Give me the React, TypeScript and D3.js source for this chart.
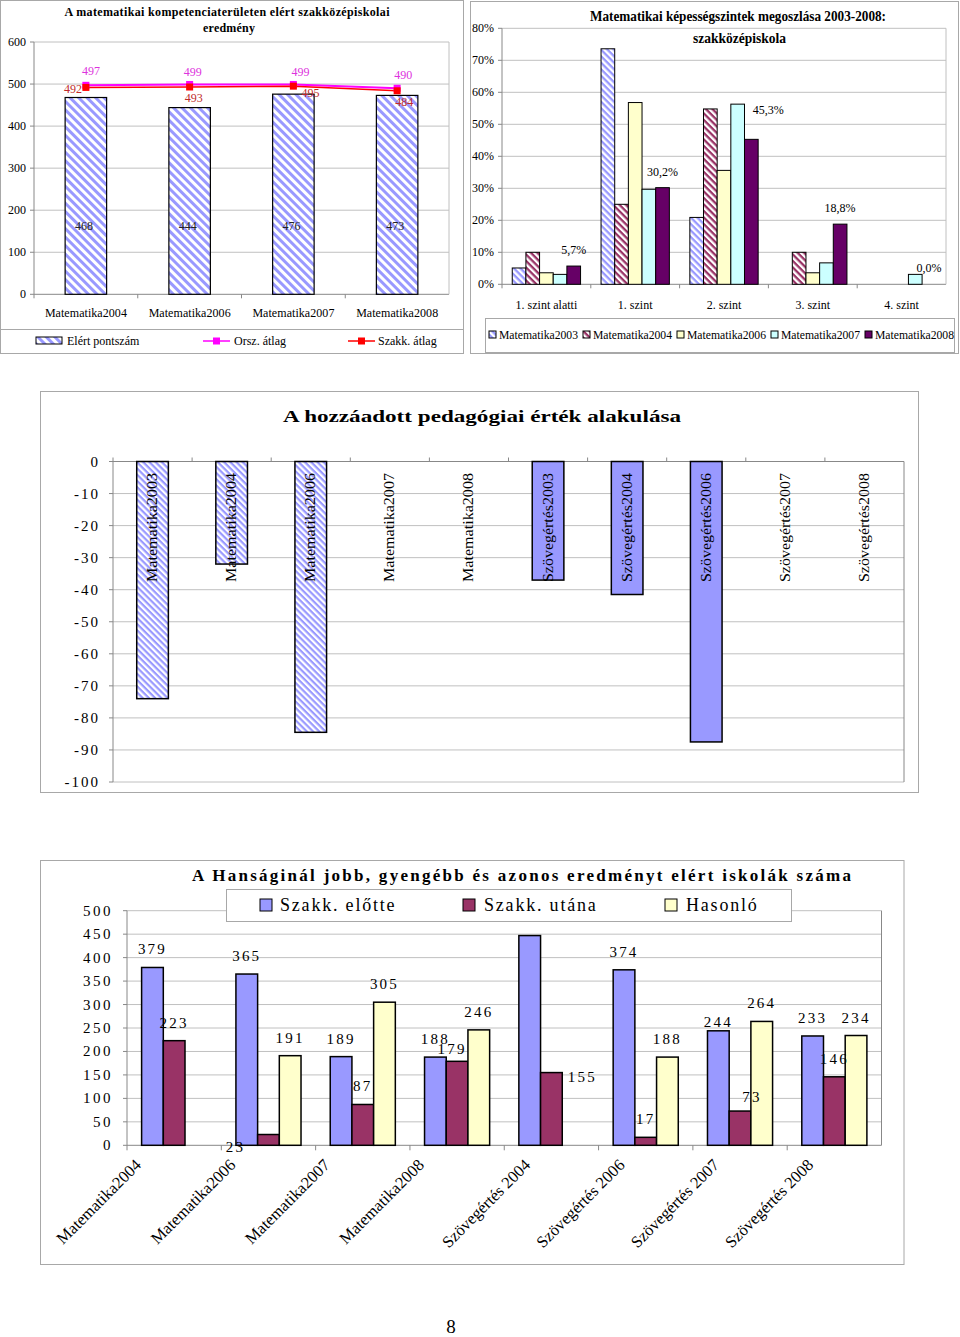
import * as d3 from "d3"

const FONT = "'Liberation Serif', 'Times New Roman', serif"
const GRID = "#c0c0c0"
const AXIS = "#888888"
const FRAME = "#a8a8a8"

// --- chart 1: kompetenciaterület eredmény
const c1Cats = ["Matematika2004", "Matematika2006", "Matematika2007", "Matematika2008"]
const c1Score = [468, 444, 476, 473]
const c1Orsz = [497, 499, 499, 490]
const c1Szakk = [492, 493, 495, 484]
const c1Ticks = [0, 100, 200, 300, 400, 500, 600]
// label nudges (px) for the line labels
const c1OrszNudge = [[5, -14], [3, -12], [7, -12], [6, -13]]
const c1SzakkNudge = [[-13, 2], [4, 11], [17, 7], [7, 11]]

// --- chart 2: képességszintek megoszlása
const c2Cats = ["1. szint alatti", "1. szint", "2. szint", "3. szint", "4. szint"]
const c2Series = ["Matematika2003", "Matematika2004", "Matematika2006", "Matematika2007", "Matematika2008"]
const c2M2003 = [5.1, 73.6, 20.9, 0, 0]
const c2M2004 = [10.0, 25.0, 54.8, 10.0, 0]
const c2M2006 = [3.6, 56.8, 35.6, 3.6, 0]
const c2M2007 = [3.1, 29.7, 56.3, 6.7, 3.1]
const c2M2008 = [5.7, 30.2, 45.3, 18.8, 0.0]
const c2Labels = ["5,7%", "30,2%", "45,3%", "18,8%", "0,0%"]
const c2Ticks = [0, 10, 20, 30, 40, 50, 60, 70, 80]

// --- chart 3: hozzáadott pedagógiai érték
const c3Cats = [
  "Matematika2003", "Matematika2004", "Matematika2006", "Matematika2007", "Matematika2008",
  "Szövegértés2003", "Szövegértés2004", "Szövegértés2006", "Szövegértés2007", "Szövegértés2008",
]
const c3Values = [-74, -32, -84.5, null, null, -37, -41.5, -87.5, null, null]
const c3Ticks = [0, -10, -20, -30, -40, -50, -60, -70, -80, -90, -100]

// --- chart 4: jobb, gyengébb, azonos iskolák
const c4Cats = [
  "Matematika2004", "Matematika2006", "Matematika2007", "Matematika2008",
  "Szövegértés 2004", "Szövegértés 2006", "Szövegértés 2007", "Szövegértés 2008",
]
const c4Series = ["Szakk. előtte", "Szakk. utána", "Hasonló"]
const c4Elotte = [379, 365, 189, 188, 447, 374, 244, 233]
const c4Utana = [223, 23, 87, 179, 155, 17, 73, 146]
const c4Hasonlo = [null, 191, 305, 246, null, 188, 264, 234]
const c4Ticks = [0, 50, 100, 150, 200, 250, 300, 350, 400, 450, 500]
const c4HiddenLabels = ["0-4"]
const c4Nudge: Record<string, [number, number]> = {
  "1-1": [-33, 30], "1-3": [-5, 6], "1-4": [31, 22], "0-6": [0, 9], "1-6": [12, 4],
}

function Patterns() {
  const hatch = (id: string, color: string, p: number) => (
    <pattern id={id} patternUnits="userSpaceOnUse" width={p} height={p} patternTransform="rotate(45)">
      <rect width={p} height={p} fill="#fff" />
      <rect width={p} height={p / 2} fill={color} />
    </pattern>
  )
  return (
    <defs>
      {hatch("hatchA", "#9999ff", 6)}
      {hatch("hatchB", "#9999ff", 4.6)}
      {hatch("hatchC", "#993366", 4.6)}
      {hatch("hatchD", "#9999ff", 4.4)}
    </defs>
  )
}

function Chart1() {
  const x = d3.scaleBand<string>().domain(c1Cats).range([34, 449])
  const y = d3.scaleLinear().domain([0, 600]).range([294.3, 42])
  const bw = x.bandwidth() * 0.4
  const cx = (i: number) => x(c1Cats[i])! + x.bandwidth() / 2
  const line = d3.line<number>().x((_, i) => cx(i)).y(v => y(v))
  const [l, r] = x.range()
  return (
    <g fontFamily={FONT}>
      <rect x={0.5} y={0.5} width={463} height={353} fill="#fff" stroke={FRAME} />
      <text x={227} y={12} textAnchor="middle" dominantBaseline="central" fontSize={12} fontWeight="bold" textLength={325} lengthAdjust="spacing">A matematikai kompetenciaterületen elért szakközépiskolai</text>
      <text x={229} y={28} textAnchor="middle" dominantBaseline="central" fontSize={12} fontWeight="bold" textLength={52} lengthAdjust="spacing">eredmény</text>
      {c1Ticks.map(t => (
        <g key={t}>
          <line x1={l} x2={r} y1={y(t)} y2={y(t)} stroke={t === 0 ? AXIS : GRID} />
          <line x1={l - 4} x2={l} y1={y(t)} y2={y(t)} stroke={AXIS} />
          <text x={26} y={y(t)} textAnchor="end" dominantBaseline="central" fontSize={12}>{t}</text>
        </g>
      ))}
      <line x1={l} x2={l} y1={y(600)} y2={y(0)} stroke={AXIS} />
      <line x1={r} x2={r} y1={y(600)} y2={y(0)} stroke={GRID} />
      {c1Cats.map((c, i) => (
        <g key={c}>
          <line x1={x(c)!} x2={x(c)!} y1={y(0)} y2={y(0) + 4} stroke={AXIS} />
          <rect x={cx(i) - bw / 2} y={y(c1Score[i])} width={bw} height={y(0) - y(c1Score[i])} fill="url(#hatchA)" stroke="#000" strokeWidth={1.2} />
          <text x={cx(i) - 2} y={y(162)} textAnchor="middle" dominantBaseline="central" fontSize={12} fill="#222">{c1Score[i]}</text>
          <text x={cx(i)} y={313} textAnchor="middle" dominantBaseline="central" fontSize={12} textLength={82} lengthAdjust="spacing">{c}</text>
        </g>
      ))}
      <path d={line(c1Orsz)!} fill="none" stroke="#ff00ff" strokeWidth={2} />
      <path d={line(c1Szakk)!} fill="none" stroke="#ff0000" strokeWidth={1.5} />
      {c1Orsz.map((v, i) => (
        <g key={"o" + i}>
          <rect x={cx(i) - 3.5} y={y(v) - 3.5} width={7} height={7} fill="#ff00ff" />
          <text x={cx(i) + c1OrszNudge[i][0]} y={y(v) + c1OrszNudge[i][1]} textAnchor="middle" dominantBaseline="central" fontSize={12} fill="#dd33dd">{v}</text>
        </g>
      ))}
      {c1Szakk.map((v, i) => (
        <g key={"s" + i}>
          <rect x={cx(i) - 3.5} y={y(v) - 3.5} width={7} height={7} fill="#ff0000" />
          <text x={cx(i) + c1SzakkNudge[i][0]} y={y(v) + c1SzakkNudge[i][1]} textAnchor="middle" dominantBaseline="central" fontSize={12} fill="#c02a2a">{v}</text>
        </g>
      ))}
      {/* legend */}
      <line x1={0.5} x2={463.5} y1={329.5} y2={329.5} stroke={FRAME} />
      <rect x={36} y={337} width={26} height={7} fill="url(#hatchA)" stroke="#000" />
      <text x={67} y={341} dominantBaseline="central" fontSize={12}>Elért pontszám</text>
      <line x1={203} x2={230} y1={341} y2={341} stroke="#ff00ff" strokeWidth={1.5} />
      <rect x={213} y={337.5} width={7} height={7} fill="#ff00ff" />
      <text x={234} y={341} dominantBaseline="central" fontSize={12}>Orsz. átlag</text>
      <line x1={348} x2={375} y1={341} y2={341} stroke="#ff0000" strokeWidth={1.5} />
      <rect x={358} y={337.5} width={7} height={7} fill="#ff0000" />
      <text x={378} y={341} dominantBaseline="central" fontSize={12}>Szakk. átlag</text>
    </g>
  )
}

function Chart2() {
  const x = d3.scaleBand<string>().domain(c2Cats).range([502, 946])
  const y = d3.scaleLinear().domain([0, 80]).range([284.3, 28.3])
  const w = x.bandwidth() / 6.5
  const series = [c2M2003, c2M2004, c2M2006, c2M2007, c2M2008]
  const fills = ["url(#hatchB)", "url(#hatchC)", "#ffffcc", "#ccffff", "#660066"]
  const [l, r] = x.range()
  const barX = (ci: number, si: number) => x(c2Cats[ci])! + 0.75 * w + si * w
  return (
    <g fontFamily={FONT}>
      <rect x={470.5} y={1.5} width={488} height={352} fill="#fff" stroke={FRAME} />
      <text x={738} y={16} textAnchor="middle" dominantBaseline="central" fontSize={14} fontWeight="bold" textLength={296} lengthAdjust="spacingAndGlyphs">Matematikai képességszintek megoszlása 2003-2008:</text>
      <text x={739.5} y={38} textAnchor="middle" dominantBaseline="central" fontSize={14} fontWeight="bold" textLength={93} lengthAdjust="spacingAndGlyphs">szakközépiskola</text>
      {c2Ticks.map(t => (
        <g key={t}>
          <line x1={l} x2={r} y1={y(t)} y2={y(t)} stroke={t === 0 ? AXIS : GRID} />
          <line x1={l - 4} x2={l} y1={y(t)} y2={y(t)} stroke={AXIS} />
          <text x={494} y={y(t)} textAnchor="end" dominantBaseline="central" fontSize={12}>{t}%</text>
        </g>
      ))}
      <line x1={l} x2={l} y1={y(80)} y2={y(0)} stroke={AXIS} />
      <line x1={r} x2={r} y1={y(80)} y2={y(0)} stroke={GRID} />
      {c2Cats.map((c, ci) => (
        <g key={c}>
          <line x1={x(c)!} x2={x(c)!} y1={y(0)} y2={y(0) + 4} stroke={AXIS} />
          {series.map((s, si) => s[ci] > 0 ? (
            <rect key={si} x={barX(ci, si)} y={y(s[ci])} width={w} height={y(0) - y(s[ci])} fill={fills[si]} stroke="#000" strokeWidth={1} />
          ) : null)}
          <text x={x(c)! + x.bandwidth() / 2} y={305} textAnchor="middle" dominantBaseline="central" fontSize={12}>{c}</text>
          <text x={barX(ci, 4) + w / 2 + (ci === 2 ? 17 : 0)} y={y(c2M2008[ci]) - (ci === 2 ? 29 : 16)} textAnchor="middle" dominantBaseline="central" fontSize={12}>{c2Labels[ci]}</text>
        </g>
      ))}
      <rect x={485.5} y={318.5} width={469} height={34} fill="#fff" stroke={FRAME} />
      {c2Series.map((s, i) => (
        <g key={s}>
          <rect x={489 + i * 94} y={331} width={7} height={7} fill={fills[i]} stroke="#000" />
          <text x={499 + i * 94} y={335} dominantBaseline="central" fontSize={12} textLength={79} lengthAdjust="spacingAndGlyphs">{s}</text>
        </g>
      ))}
    </g>
  )
}

function Chart3() {
  const x = d3.scaleBand<string>().domain(c3Cats).range([113, 904])
  const y = d3.scaleLinear().domain([-100, 0]).range([782, 461.5])
  const bw = x.bandwidth() * 0.4
  const [l, r] = x.range()
  return (
    <g fontFamily={FONT}>
      <rect x={40.5} y={391.5} width={878} height={401} fill="#fff" stroke={FRAME} />
      <text x={482} y={416} textAnchor="middle" dominantBaseline="central" fontSize={17} fontWeight="bold" textLength={398} lengthAdjust="spacingAndGlyphs">A hozzáadott pedagógiai érték alakulása</text>
      {c3Ticks.map(t => (
        <g key={t}>
          <line x1={l} x2={r} y1={y(t)} y2={y(t)} stroke={t === 0 ? AXIS : GRID} />
          <line x1={l - 4} x2={l} y1={y(t)} y2={y(t)} stroke={AXIS} />
          <text x={100} y={y(t)} textAnchor="end" dominantBaseline="central" fontSize={15} letterSpacing={2}>{t}</text>
        </g>
      ))}
      <line x1={l} x2={l} y1={y(0)} y2={y(-100)} stroke={AXIS} />
      <line x1={r} x2={r} y1={y(0)} y2={y(-100)} stroke={AXIS} />
      {c3Cats.map((c, i) => {
        const v = c3Values[i]
        const cx = x(c)! + x.bandwidth() / 2
        return (
          <g key={c}>
            <line x1={x(c)!} x2={x(c)!} y1={y(0)} y2={y(0) - 4} stroke={AXIS} />
            {v != null && (
              <rect x={cx - bw / 2} y={y(0)} width={bw} height={y(v) - y(0)} fill={i < 5 ? "url(#hatchD)" : "#9999ff"} stroke="#000" strokeWidth={1.5} />
            )}
            <text transform={`translate(${cx + 4.5},582) rotate(-90)`} fontSize={15} textLength={109} lengthAdjust="spacingAndGlyphs">{c}</text>
          </g>
        )
      })}
    </g>
  )
}

function Chart4() {
  const x = d3.scaleBand<string>().domain(c4Cats).range([127, 881.5])
  const y = d3.scaleLinear().domain([0, 500]).range([1145.3, 910.7])
  const w = 21.7
  const series = [c4Elotte, c4Utana, c4Hasonlo]
  const fills = ["#9999ff", "#993366", "#ffffcc"]
  const [l, r] = x.range()
  const barX = (ci: number, si: number) => x(c4Cats[ci])! + (x.bandwidth() - 3 * w) / 2 + si * w
  return (
    <g fontFamily={FONT}>
      <rect x={40.5} y={860.5} width={863.5} height={404} fill="#fff" stroke={FRAME} />
      <text x={521.5} y={875} textAnchor="middle" dominantBaseline="central" fontSize={17} fontWeight="bold" textLength={659} lengthAdjust="spacing">A Hanságinál jobb, gyengébb és azonos eredményt elért iskolák száma</text>
      {c4Ticks.map(t => (
        <g key={t}>
          <line x1={l} x2={r} y1={y(t)} y2={y(t)} stroke={t === 0 ? AXIS : GRID} />
          <line x1={l - 4} x2={l} y1={y(t)} y2={y(t)} stroke={AXIS} />
          <text x={113} y={y(t)} textAnchor="end" dominantBaseline="central" fontSize={15} letterSpacing={2.5}>{t}</text>
        </g>
      ))}
      <line x1={l} x2={l} y1={y(500)} y2={y(0)} stroke={AXIS} />
      <line x1={r} x2={r} y1={y(500)} y2={y(0)} stroke={AXIS} />
      {c4Cats.map((c, ci) => (
        <g key={c}>
          <line x1={x(c)!} x2={x(c)!} y1={y(0)} y2={y(0) + 5} stroke={AXIS} />
          {series.map((s, si) => s[ci] != null ? (
            <rect key={si} x={barX(ci, si)} y={y(s[ci]!)} width={w} height={y(0) - y(s[ci]!)} fill={fills[si]} stroke="#000" strokeWidth={1.5} />
          ) : null)}
          <text
            transform={`translate(${x(c)! + x.bandwidth() / 2 + (c.includes(" ") ? -20 : -32)},1166) rotate(-45)`}
            textAnchor="end" fontSize={16.5}
          >{c}</text>
        </g>
      ))}
      {c4Cats.map((c, ci) => series.map((s, si) => {
        const v = s[ci]
        const key = `${si}-${ci}`
        if (v == null || c4HiddenLabels.includes(key)) return null
        const [dx, dy] = c4Nudge[key] ?? [0, 0]
        return (
          <text key={key} x={barX(ci, si) + w / 2 + dx} y={y(v) - 18 + dy} textAnchor="middle" dominantBaseline="central" fontSize={15} letterSpacing={2.2}>{v}</text>
        )
      }))}
      <rect x={226.5} y={889.5} width={565} height={32} fill="#fff" stroke={FRAME} />
      {c4Series.map((s, i) => (
        <g key={s}>
          <rect x={[260, 463, 665][i]} y={899} width={12} height={12} fill={fills[i]} stroke="#000" />
          <text x={[280, 484, 686][i]} y={905} dominantBaseline="central" fontSize={18} letterSpacing={1.8}>{s}</text>
        </g>
      ))}
    </g>
  )
}

export default function App() {
  return (
    <svg width={960} height={1337} style={{ position: "absolute", left: 0, top: 0, background: "#fff" }}>
      <Patterns />
      <rect width={960} height={1337} fill="#fff" />
      <Chart1 />
      <Chart2 />
      <Chart3 />
      <Chart4 />
      <text x={451} y={1326} textAnchor="middle" dominantBaseline="central" fontFamily={FONT} fontSize={19}>8</text>
    </svg>
  )
}
